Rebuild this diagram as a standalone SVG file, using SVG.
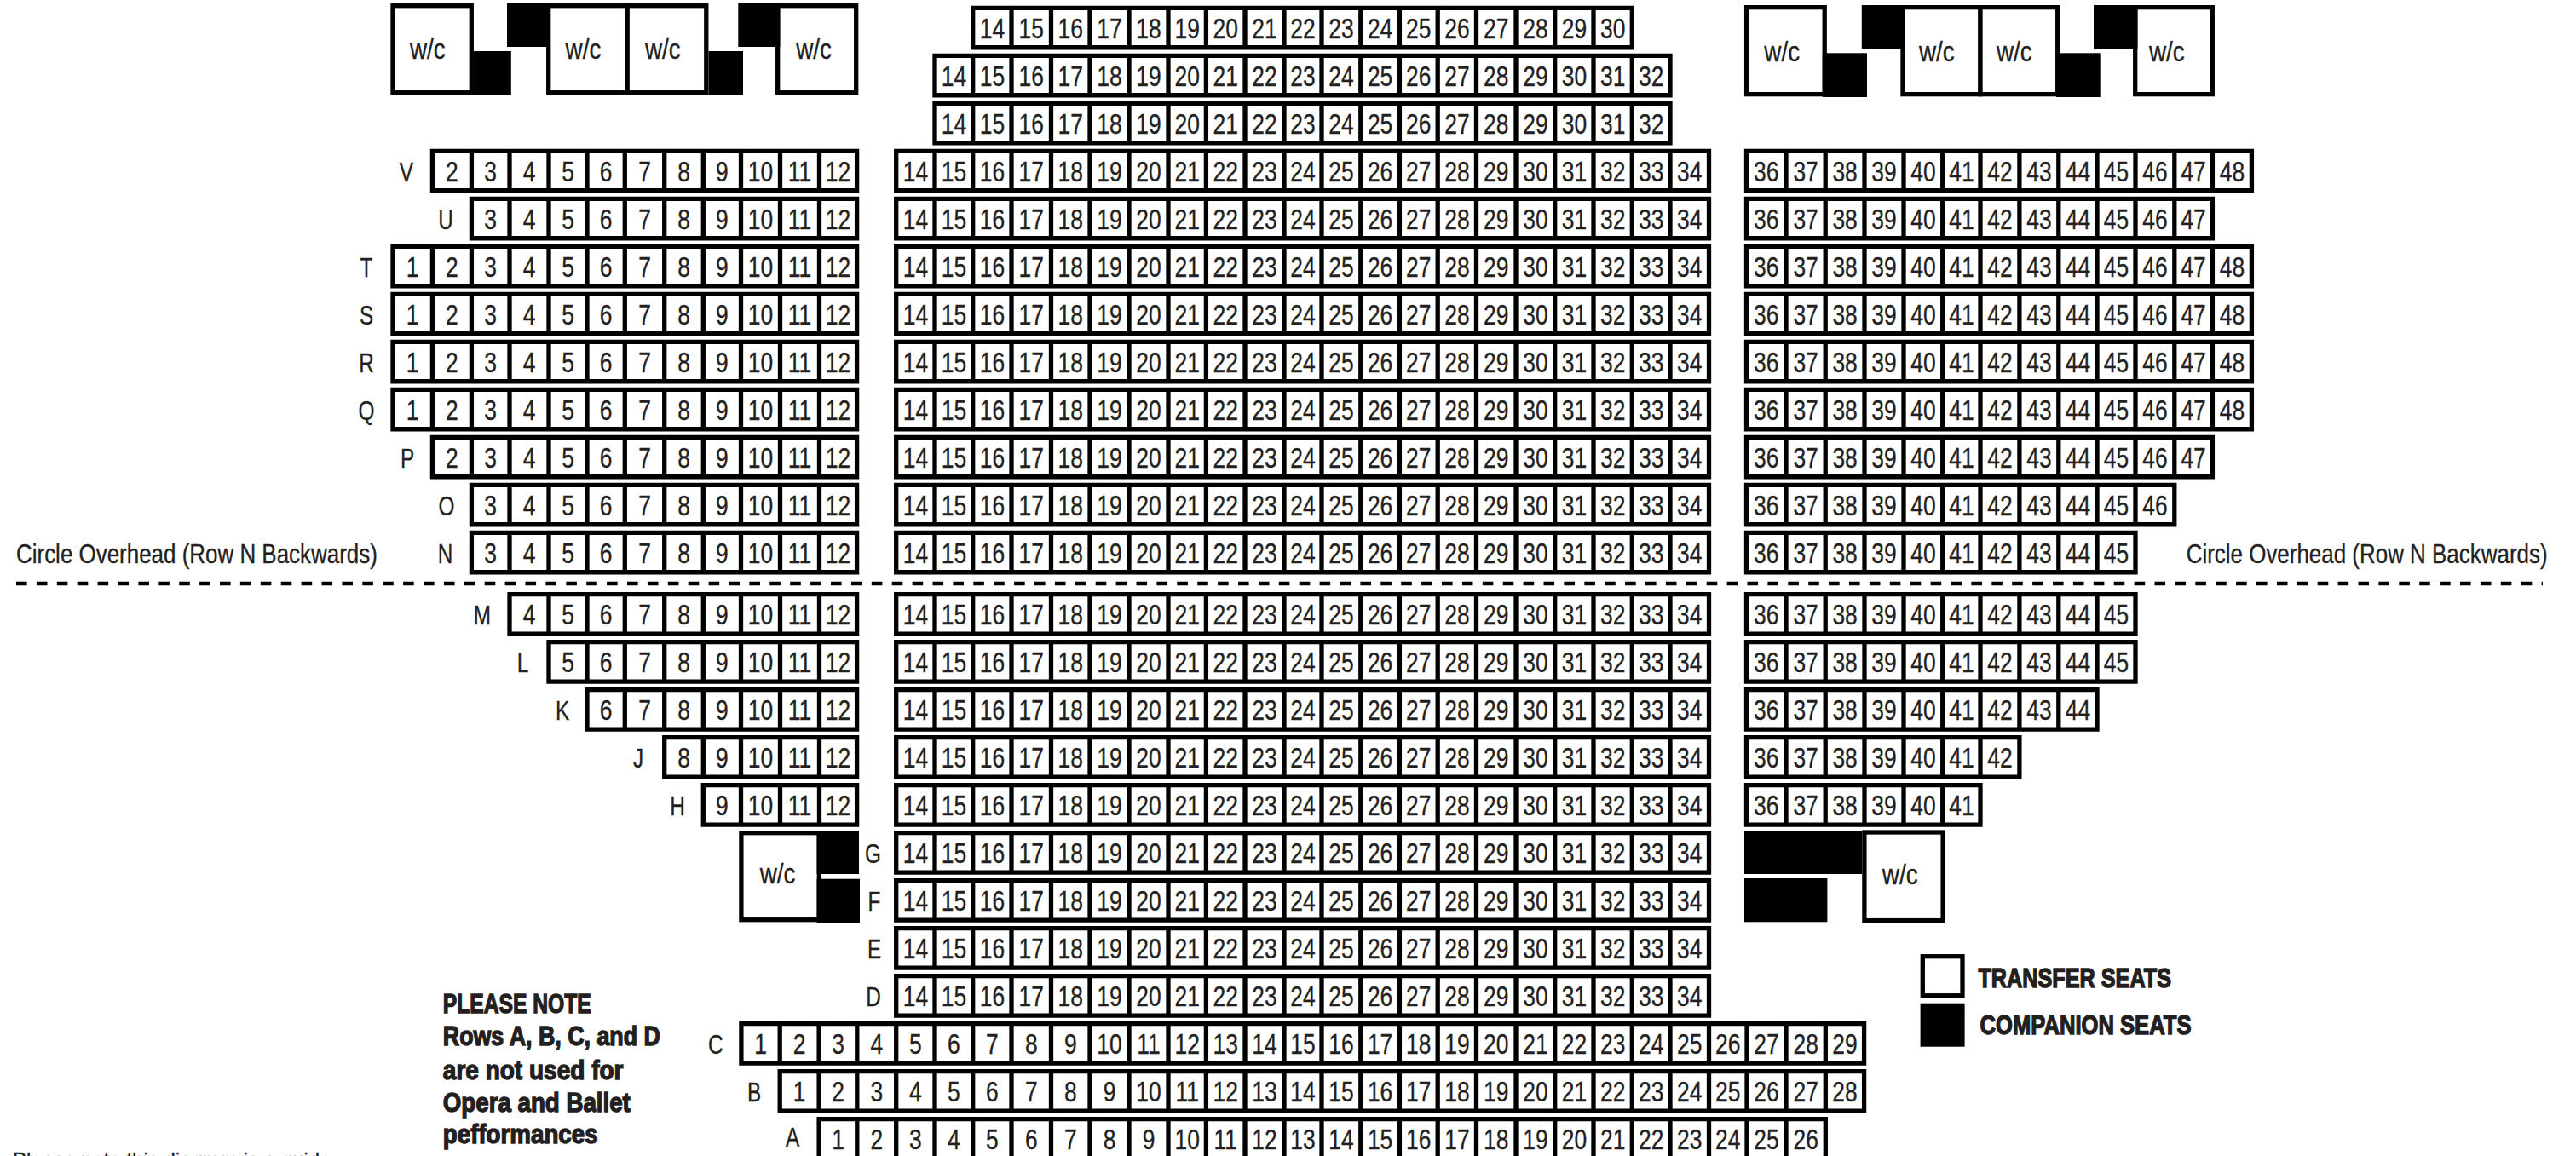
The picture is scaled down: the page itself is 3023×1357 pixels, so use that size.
<svg xmlns="http://www.w3.org/2000/svg" xmlns:xlink="http://www.w3.org/1999/xlink" width="3023" height="1357" viewBox="0 0 3023 1357">
<style>
text{font-family:"Liberation Sans",sans-serif;font-size:33px;fill:#231f20;stroke:#231f20;stroke-width:.35px;text-anchor:middle;transform-box:fill-box;transform-origin:50% 50%;transform:scaleX(.8)}
g>text:first-child{transform:scaleX(.76);font-size:32px}
.f{fill:#fff;stroke:#000;stroke-width:5.3}
.k{fill:#000}
.w{font-size:34px;transform:scaleX(.82)}
.s{text-anchor:start;transform-box:view-box;transform-origin:0 0}
#cl1{font-size:32px;transform:translate(19px,661px) scaleX(.811)}
#cl2{font-size:32px;transform:translate(2565.7px,661px) scaleX(.811)}
.b{text-anchor:start;font-size:32px;font-weight:bold;stroke-width:1.4px}
.t{text-anchor:start;font-size:24px}
#note text,#legend text,#footnote{transform:none}
</style>
<defs>
<path id="L1" class="f" d="M461-35.5H1005.6v46.4H461ZM507.4-35.5v46.4M553.4-35.5v46.4M598-35.5v46.4M644-35.5v46.4M689-35.5v46.4M733.3-35.5v46.4M779.7-35.5v46.4M825.3-35.5v46.4M869.5-35.5v46.4M915.5-35.5v46.4M961.5-35.5v46.4"/>
<path id="L2" class="f" d="M507.4-35.5H1005.6v46.4H507.4ZM553.4-35.5v46.4M598-35.5v46.4M644-35.5v46.4M689-35.5v46.4M733.3-35.5v46.4M779.7-35.5v46.4M825.3-35.5v46.4M869.5-35.5v46.4M915.5-35.5v46.4M961.5-35.5v46.4"/>
<path id="L3" class="f" d="M553.4-35.5H1005.6v46.4H553.4ZM598-35.5v46.4M644-35.5v46.4M689-35.5v46.4M733.3-35.5v46.4M779.7-35.5v46.4M825.3-35.5v46.4M869.5-35.5v46.4M915.5-35.5v46.4M961.5-35.5v46.4"/>
<path id="L4" class="f" d="M598-35.5H1005.6v46.4H598ZM644-35.5v46.4M689-35.5v46.4M733.3-35.5v46.4M779.7-35.5v46.4M825.3-35.5v46.4M869.5-35.5v46.4M915.5-35.5v46.4M961.5-35.5v46.4"/>
<path id="L5" class="f" d="M644-35.5H1005.6v46.4H644ZM689-35.5v46.4M733.3-35.5v46.4M779.7-35.5v46.4M825.3-35.5v46.4M869.5-35.5v46.4M915.5-35.5v46.4M961.5-35.5v46.4"/>
<path id="L6" class="f" d="M689-35.5H1005.6v46.4H689ZM733.3-35.5v46.4M779.7-35.5v46.4M825.3-35.5v46.4M869.5-35.5v46.4M915.5-35.5v46.4M961.5-35.5v46.4"/>
<path id="L8" class="f" d="M779.7-35.5H1005.6v46.4H779.7ZM825.3-35.5v46.4M869.5-35.5v46.4M915.5-35.5v46.4M961.5-35.5v46.4"/>
<path id="L9" class="f" d="M825.3-35.5H1005.6v46.4H825.3ZM869.5-35.5v46.4M915.5-35.5v46.4M961.5-35.5v46.4"/>
<path id="C" class="f" d="M1051.7-35.5H2005.5v46.4H1051.7ZM1097-35.5v46.4M1141.7-35.5v46.4M1187-35.5v46.4M1233.5-35.5v46.4M1279-35.5v46.4M1325-35.5v46.4M1371-35.5v46.4M1415.4-35.5v46.4M1461-35.5v46.4M1507-35.5v46.4M1551-35.5v46.4M1596.8-35.5v46.4M1642.4-35.5v46.4M1687.2-35.5v46.4M1732.5-35.5v46.4M1779-35.5v46.4M1824.7-35.5v46.4M1870-35.5v46.4M1915.3-35.5v46.4M1960-35.5v46.4"/>
<path id="T0" class="f" d="M1141.7-35.5H1915.3v46.4H1141.7ZM1187-35.5v46.4M1233.5-35.5v46.4M1279-35.5v46.4M1325-35.5v46.4M1371-35.5v46.4M1415.4-35.5v46.4M1461-35.5v46.4M1507-35.5v46.4M1551-35.5v46.4M1596.8-35.5v46.4M1642.4-35.5v46.4M1687.2-35.5v46.4M1732.5-35.5v46.4M1779-35.5v46.4M1824.7-35.5v46.4M1870-35.5v46.4"/>
<path id="T1" class="f" d="M1097-35.5H1960v46.4H1097ZM1141.7-35.5v46.4M1187-35.5v46.4M1233.5-35.5v46.4M1279-35.5v46.4M1325-35.5v46.4M1371-35.5v46.4M1415.4-35.5v46.4M1461-35.5v46.4M1507-35.5v46.4M1551-35.5v46.4M1596.8-35.5v46.4M1642.4-35.5v46.4M1687.2-35.5v46.4M1732.5-35.5v46.4M1779-35.5v46.4M1824.7-35.5v46.4M1870-35.5v46.4M1915.3-35.5v46.4"/>
<path id="R48" class="f" d="M2049.5-35.5H2642.4v46.4H2049.5ZM2096-35.5v46.4M2142.2-35.5v46.4M2188-35.5v46.4M2234-35.5v46.4M2279.7-35.5v46.4M2324-35.5v46.4M2369.9-35.5v46.4M2415.8-35.5v46.4M2461-35.5v46.4M2506-35.5v46.4M2551.8-35.5v46.4M2596.4-35.5v46.4"/>
<path id="R47" class="f" d="M2049.5-35.5H2596.4v46.4H2049.5ZM2096-35.5v46.4M2142.2-35.5v46.4M2188-35.5v46.4M2234-35.5v46.4M2279.7-35.5v46.4M2324-35.5v46.4M2369.9-35.5v46.4M2415.8-35.5v46.4M2461-35.5v46.4M2506-35.5v46.4M2551.8-35.5v46.4"/>
<path id="R46" class="f" d="M2049.5-35.5H2551.8v46.4H2049.5ZM2096-35.5v46.4M2142.2-35.5v46.4M2188-35.5v46.4M2234-35.5v46.4M2279.7-35.5v46.4M2324-35.5v46.4M2369.9-35.5v46.4M2415.8-35.5v46.4M2461-35.5v46.4M2506-35.5v46.4"/>
<path id="R45" class="f" d="M2049.5-35.5H2506v46.4H2049.5ZM2096-35.5v46.4M2142.2-35.5v46.4M2188-35.5v46.4M2234-35.5v46.4M2279.7-35.5v46.4M2324-35.5v46.4M2369.9-35.5v46.4M2415.8-35.5v46.4M2461-35.5v46.4"/>
<path id="R44" class="f" d="M2049.5-35.5H2461v46.4H2049.5ZM2096-35.5v46.4M2142.2-35.5v46.4M2188-35.5v46.4M2234-35.5v46.4M2279.7-35.5v46.4M2324-35.5v46.4M2369.9-35.5v46.4M2415.8-35.5v46.4"/>
<path id="R42" class="f" d="M2049.5-35.5H2369.9v46.4H2049.5ZM2096-35.5v46.4M2142.2-35.5v46.4M2188-35.5v46.4M2234-35.5v46.4M2279.7-35.5v46.4M2324-35.5v46.4"/>
<path id="R41" class="f" d="M2049.5-35.5H2324v46.4H2049.5ZM2096-35.5v46.4M2142.2-35.5v46.4M2188-35.5v46.4M2234-35.5v46.4M2279.7-35.5v46.4"/>
</defs>
<rect width="3023" height="1357" fill="#fff"/>

<g id="wheelchair-top-left">
<rect class="f" x="461" y="6.7" width="92.3" height="102"/>
<rect class="f" x="643.7" y="6.7" width="92.5" height="102"/>
<rect class="f" x="736.2" y="6.7" width="92.6" height="102"/>
<rect class="f" x="912.7" y="6.7" width="92" height="102"/>
<rect class="k" x="555.6" y="60" width="44.2" height="51.3"/>
<rect class="k" x="595" y="4" width="50.8" height="51"/>
<rect class="k" x="831.5" y="60" width="40.5" height="51.3"/>
<rect class="k" x="866.3" y="4" width="49.1" height="51"/>
<text class="w" x="502" y="69.3">w/c</text><text class="w" x="684.6" y="69.3">w/c</text><text class="w" x="778" y="69.3">w/c</text><text class="w" x="955.2" y="69.3">w/c</text>
</g>
<g id="wheelchair-top-right">
<rect class="f" x="2049.6" y="8.65" width="91.6" height="102"/>
<rect class="f" x="2233" y="8.65" width="91" height="102"/>
<rect class="f" x="2324" y="8.65" width="90.7" height="102"/>
<rect class="f" x="2505.7" y="8.65" width="90.6" height="102"/>
<rect class="k" x="2138.8" y="62.3" width="52.2" height="51.7"/>
<rect class="k" x="2184.8" y="6" width="50.9" height="52"/>
<rect class="k" x="2413" y="62.3" width="51.7" height="51.7"/>
<rect class="k" x="2457" y="6" width="51.5" height="52"/>
<text class="w" x="2091.3" y="72.3">w/c</text><text class="w" x="2273" y="72.3">w/c</text><text class="w" x="2364" y="72.3">w/c</text><text class="w" x="2543" y="72.3">w/c</text>
</g>

<g id="row-top-1" transform="translate(0,44.85)"><use href="#T0"/><text x="1164.4">14</text><text x="1210.3">15</text><text x="1256.3">16</text><text x="1302">17</text><text x="1348">18</text><text x="1393.2">19</text><text x="1438.2">20</text><text x="1484">21</text><text x="1529">22</text><text x="1573.9">23</text><text x="1619.6">24</text><text x="1664.8">25</text><text x="1709.9">26</text><text x="1755.8">27</text><text x="1801.9">28</text><text x="1847.4">29</text><text x="1892.7">30</text></g>
<g id="row-top-2" transform="translate(0,100.85)"><use href="#T1"/><text x="1119.4">14</text><text x="1164.4">15</text><text x="1210.3">16</text><text x="1256.3">17</text><text x="1302">18</text><text x="1348">19</text><text x="1393.2">20</text><text x="1438.2">21</text><text x="1484">22</text><text x="1529">23</text><text x="1573.9">24</text><text x="1619.6">25</text><text x="1664.8">26</text><text x="1709.9">27</text><text x="1755.8">28</text><text x="1801.9">29</text><text x="1847.4">30</text><text x="1892.7">31</text><text x="1937.7">32</text></g>
<g id="row-top-3" transform="translate(0,156.85)"><use href="#T1"/><text x="1119.4">14</text><text x="1164.4">15</text><text x="1210.3">16</text><text x="1256.3">17</text><text x="1302">18</text><text x="1348">19</text><text x="1393.2">20</text><text x="1438.2">21</text><text x="1484">22</text><text x="1529">23</text><text x="1573.9">24</text><text x="1619.6">25</text><text x="1664.8">26</text><text x="1709.9">27</text><text x="1755.8">28</text><text x="1801.9">29</text><text x="1847.4">30</text><text x="1892.7">31</text><text x="1937.7">32</text></g>

<g id="row-V" transform="translate(0,212.85)"><text x="476.8">V</text><use href="#L2"/><text x="530.4">2</text><text x="575.7">3</text><text x="621">4</text><text x="666.5">5</text><text x="711.2">6</text><text x="756.5">7</text><text x="802.5">8</text><text x="847.4">9</text><text x="892.5">10</text><text x="938.5">11</text><text x="983.5">12</text><use href="#C"/><text x="1074.4">14</text><text x="1119.4">15</text><text x="1164.4">16</text><text x="1210.3">17</text><text x="1256.3">18</text><text x="1302">19</text><text x="1348">20</text><text x="1393.2">21</text><text x="1438.2">22</text><text x="1484">23</text><text x="1529">24</text><text x="1573.9">25</text><text x="1619.6">26</text><text x="1664.8">27</text><text x="1709.9">28</text><text x="1755.8">29</text><text x="1801.9">30</text><text x="1847.4">31</text><text x="1892.7">32</text><text x="1937.7">33</text><text x="1982.7">34</text><use href="#R48"/><text x="2072.7">36</text><text x="2119.1">37</text><text x="2165.1">38</text><text x="2211">39</text><text x="2256.9">40</text><text x="2301.9">41</text><text x="2347">42</text><text x="2392.9">43</text><text x="2438.4">44</text><text x="2483.5">45</text><text x="2528.9">46</text><text x="2574.1">47</text><text x="2619.4">48</text></g>
<g id="row-U" transform="translate(0,268.85)"><text x="523">U</text><use href="#L3"/><text x="575.7">3</text><text x="621">4</text><text x="666.5">5</text><text x="711.2">6</text><text x="756.5">7</text><text x="802.5">8</text><text x="847.4">9</text><text x="892.5">10</text><text x="938.5">11</text><text x="983.5">12</text><use href="#C"/><text x="1074.4">14</text><text x="1119.4">15</text><text x="1164.4">16</text><text x="1210.3">17</text><text x="1256.3">18</text><text x="1302">19</text><text x="1348">20</text><text x="1393.2">21</text><text x="1438.2">22</text><text x="1484">23</text><text x="1529">24</text><text x="1573.9">25</text><text x="1619.6">26</text><text x="1664.8">27</text><text x="1709.9">28</text><text x="1755.8">29</text><text x="1801.9">30</text><text x="1847.4">31</text><text x="1892.7">32</text><text x="1937.7">33</text><text x="1982.7">34</text><use href="#R47"/><text x="2072.7">36</text><text x="2119.1">37</text><text x="2165.1">38</text><text x="2211">39</text><text x="2256.9">40</text><text x="2301.9">41</text><text x="2347">42</text><text x="2392.9">43</text><text x="2438.4">44</text><text x="2483.5">45</text><text x="2528.9">46</text><text x="2574.1">47</text></g>
<g id="row-T" transform="translate(0,324.85)"><text x="430">T</text><use href="#L1"/><text x="484.2">1</text><text x="530.4">2</text><text x="575.7">3</text><text x="621">4</text><text x="666.5">5</text><text x="711.2">6</text><text x="756.5">7</text><text x="802.5">8</text><text x="847.4">9</text><text x="892.5">10</text><text x="938.5">11</text><text x="983.5">12</text><use href="#C"/><text x="1074.4">14</text><text x="1119.4">15</text><text x="1164.4">16</text><text x="1210.3">17</text><text x="1256.3">18</text><text x="1302">19</text><text x="1348">20</text><text x="1393.2">21</text><text x="1438.2">22</text><text x="1484">23</text><text x="1529">24</text><text x="1573.9">25</text><text x="1619.6">26</text><text x="1664.8">27</text><text x="1709.9">28</text><text x="1755.8">29</text><text x="1801.9">30</text><text x="1847.4">31</text><text x="1892.7">32</text><text x="1937.7">33</text><text x="1982.7">34</text><use href="#R48"/><text x="2072.7">36</text><text x="2119.1">37</text><text x="2165.1">38</text><text x="2211">39</text><text x="2256.9">40</text><text x="2301.9">41</text><text x="2347">42</text><text x="2392.9">43</text><text x="2438.4">44</text><text x="2483.5">45</text><text x="2528.9">46</text><text x="2574.1">47</text><text x="2619.4">48</text></g>
<g id="row-S" transform="translate(0,380.85)"><text x="430">S</text><use href="#L1"/><text x="484.2">1</text><text x="530.4">2</text><text x="575.7">3</text><text x="621">4</text><text x="666.5">5</text><text x="711.2">6</text><text x="756.5">7</text><text x="802.5">8</text><text x="847.4">9</text><text x="892.5">10</text><text x="938.5">11</text><text x="983.5">12</text><use href="#C"/><text x="1074.4">14</text><text x="1119.4">15</text><text x="1164.4">16</text><text x="1210.3">17</text><text x="1256.3">18</text><text x="1302">19</text><text x="1348">20</text><text x="1393.2">21</text><text x="1438.2">22</text><text x="1484">23</text><text x="1529">24</text><text x="1573.9">25</text><text x="1619.6">26</text><text x="1664.8">27</text><text x="1709.9">28</text><text x="1755.8">29</text><text x="1801.9">30</text><text x="1847.4">31</text><text x="1892.7">32</text><text x="1937.7">33</text><text x="1982.7">34</text><use href="#R48"/><text x="2072.7">36</text><text x="2119.1">37</text><text x="2165.1">38</text><text x="2211">39</text><text x="2256.9">40</text><text x="2301.9">41</text><text x="2347">42</text><text x="2392.9">43</text><text x="2438.4">44</text><text x="2483.5">45</text><text x="2528.9">46</text><text x="2574.1">47</text><text x="2619.4">48</text></g>
<g id="row-R" transform="translate(0,436.85)"><text x="430">R</text><use href="#L1"/><text x="484.2">1</text><text x="530.4">2</text><text x="575.7">3</text><text x="621">4</text><text x="666.5">5</text><text x="711.2">6</text><text x="756.5">7</text><text x="802.5">8</text><text x="847.4">9</text><text x="892.5">10</text><text x="938.5">11</text><text x="983.5">12</text><use href="#C"/><text x="1074.4">14</text><text x="1119.4">15</text><text x="1164.4">16</text><text x="1210.3">17</text><text x="1256.3">18</text><text x="1302">19</text><text x="1348">20</text><text x="1393.2">21</text><text x="1438.2">22</text><text x="1484">23</text><text x="1529">24</text><text x="1573.9">25</text><text x="1619.6">26</text><text x="1664.8">27</text><text x="1709.9">28</text><text x="1755.8">29</text><text x="1801.9">30</text><text x="1847.4">31</text><text x="1892.7">32</text><text x="1937.7">33</text><text x="1982.7">34</text><use href="#R48"/><text x="2072.7">36</text><text x="2119.1">37</text><text x="2165.1">38</text><text x="2211">39</text><text x="2256.9">40</text><text x="2301.9">41</text><text x="2347">42</text><text x="2392.9">43</text><text x="2438.4">44</text><text x="2483.5">45</text><text x="2528.9">46</text><text x="2574.1">47</text><text x="2619.4">48</text></g>
<g id="row-Q" transform="translate(0,492.85)"><text x="430">Q</text><use href="#L1"/><text x="484.2">1</text><text x="530.4">2</text><text x="575.7">3</text><text x="621">4</text><text x="666.5">5</text><text x="711.2">6</text><text x="756.5">7</text><text x="802.5">8</text><text x="847.4">9</text><text x="892.5">10</text><text x="938.5">11</text><text x="983.5">12</text><use href="#C"/><text x="1074.4">14</text><text x="1119.4">15</text><text x="1164.4">16</text><text x="1210.3">17</text><text x="1256.3">18</text><text x="1302">19</text><text x="1348">20</text><text x="1393.2">21</text><text x="1438.2">22</text><text x="1484">23</text><text x="1529">24</text><text x="1573.9">25</text><text x="1619.6">26</text><text x="1664.8">27</text><text x="1709.9">28</text><text x="1755.8">29</text><text x="1801.9">30</text><text x="1847.4">31</text><text x="1892.7">32</text><text x="1937.7">33</text><text x="1982.7">34</text><use href="#R48"/><text x="2072.7">36</text><text x="2119.1">37</text><text x="2165.1">38</text><text x="2211">39</text><text x="2256.9">40</text><text x="2301.9">41</text><text x="2347">42</text><text x="2392.9">43</text><text x="2438.4">44</text><text x="2483.5">45</text><text x="2528.9">46</text><text x="2574.1">47</text><text x="2619.4">48</text></g>
<g id="row-P" transform="translate(0,548.85)"><text x="478">P</text><use href="#L2"/><text x="530.4">2</text><text x="575.7">3</text><text x="621">4</text><text x="666.5">5</text><text x="711.2">6</text><text x="756.5">7</text><text x="802.5">8</text><text x="847.4">9</text><text x="892.5">10</text><text x="938.5">11</text><text x="983.5">12</text><use href="#C"/><text x="1074.4">14</text><text x="1119.4">15</text><text x="1164.4">16</text><text x="1210.3">17</text><text x="1256.3">18</text><text x="1302">19</text><text x="1348">20</text><text x="1393.2">21</text><text x="1438.2">22</text><text x="1484">23</text><text x="1529">24</text><text x="1573.9">25</text><text x="1619.6">26</text><text x="1664.8">27</text><text x="1709.9">28</text><text x="1755.8">29</text><text x="1801.9">30</text><text x="1847.4">31</text><text x="1892.7">32</text><text x="1937.7">33</text><text x="1982.7">34</text><use href="#R47"/><text x="2072.7">36</text><text x="2119.1">37</text><text x="2165.1">38</text><text x="2211">39</text><text x="2256.9">40</text><text x="2301.9">41</text><text x="2347">42</text><text x="2392.9">43</text><text x="2438.4">44</text><text x="2483.5">45</text><text x="2528.9">46</text><text x="2574.1">47</text></g>
<g id="row-O" transform="translate(0,604.85)"><text x="524">O</text><use href="#L3"/><text x="575.7">3</text><text x="621">4</text><text x="666.5">5</text><text x="711.2">6</text><text x="756.5">7</text><text x="802.5">8</text><text x="847.4">9</text><text x="892.5">10</text><text x="938.5">11</text><text x="983.5">12</text><use href="#C"/><text x="1074.4">14</text><text x="1119.4">15</text><text x="1164.4">16</text><text x="1210.3">17</text><text x="1256.3">18</text><text x="1302">19</text><text x="1348">20</text><text x="1393.2">21</text><text x="1438.2">22</text><text x="1484">23</text><text x="1529">24</text><text x="1573.9">25</text><text x="1619.6">26</text><text x="1664.8">27</text><text x="1709.9">28</text><text x="1755.8">29</text><text x="1801.9">30</text><text x="1847.4">31</text><text x="1892.7">32</text><text x="1937.7">33</text><text x="1982.7">34</text><use href="#R46"/><text x="2072.7">36</text><text x="2119.1">37</text><text x="2165.1">38</text><text x="2211">39</text><text x="2256.9">40</text><text x="2301.9">41</text><text x="2347">42</text><text x="2392.9">43</text><text x="2438.4">44</text><text x="2483.5">45</text><text x="2528.9">46</text></g>
<g id="row-N" transform="translate(0,660.85)"><text x="522.6">N</text><use href="#L3"/><text x="575.7">3</text><text x="621">4</text><text x="666.5">5</text><text x="711.2">6</text><text x="756.5">7</text><text x="802.5">8</text><text x="847.4">9</text><text x="892.5">10</text><text x="938.5">11</text><text x="983.5">12</text><use href="#C"/><text x="1074.4">14</text><text x="1119.4">15</text><text x="1164.4">16</text><text x="1210.3">17</text><text x="1256.3">18</text><text x="1302">19</text><text x="1348">20</text><text x="1393.2">21</text><text x="1438.2">22</text><text x="1484">23</text><text x="1529">24</text><text x="1573.9">25</text><text x="1619.6">26</text><text x="1664.8">27</text><text x="1709.9">28</text><text x="1755.8">29</text><text x="1801.9">30</text><text x="1847.4">31</text><text x="1892.7">32</text><text x="1937.7">33</text><text x="1982.7">34</text><use href="#R45"/><text x="2072.7">36</text><text x="2119.1">37</text><text x="2165.1">38</text><text x="2211">39</text><text x="2256.9">40</text><text x="2301.9">41</text><text x="2347">42</text><text x="2392.9">43</text><text x="2438.4">44</text><text x="2483.5">45</text></g>

<g id="circle-labels">
<text id="cl1" class="s">Circle Overhead (Row N Backwards)</text>
<text id="cl2" class="s">Circle Overhead (Row N Backwards)</text>
</g>
<g id="divider"><line x1="19" y1="685" x2="2984" y2="685" stroke="#000" stroke-width="4.4" stroke-dasharray="12.6 11.3"/></g>

<g id="row-M" transform="translate(0,733.15)"><text x="566">M</text><use href="#L4"/><text x="621">4</text><text x="666.5">5</text><text x="711.2">6</text><text x="756.5">7</text><text x="802.5">8</text><text x="847.4">9</text><text x="892.5">10</text><text x="938.5">11</text><text x="983.5">12</text><use href="#C"/><text x="1074.4">14</text><text x="1119.4">15</text><text x="1164.4">16</text><text x="1210.3">17</text><text x="1256.3">18</text><text x="1302">19</text><text x="1348">20</text><text x="1393.2">21</text><text x="1438.2">22</text><text x="1484">23</text><text x="1529">24</text><text x="1573.9">25</text><text x="1619.6">26</text><text x="1664.8">27</text><text x="1709.9">28</text><text x="1755.8">29</text><text x="1801.9">30</text><text x="1847.4">31</text><text x="1892.7">32</text><text x="1937.7">33</text><text x="1982.7">34</text><use href="#R45"/><text x="2072.7">36</text><text x="2119.1">37</text><text x="2165.1">38</text><text x="2211">39</text><text x="2256.9">40</text><text x="2301.9">41</text><text x="2347">42</text><text x="2392.9">43</text><text x="2438.4">44</text><text x="2483.5">45</text></g>
<g id="row-L" transform="translate(0,789.15)"><text x="613.6">L</text><use href="#L5"/><text x="666.5">5</text><text x="711.2">6</text><text x="756.5">7</text><text x="802.5">8</text><text x="847.4">9</text><text x="892.5">10</text><text x="938.5">11</text><text x="983.5">12</text><use href="#C"/><text x="1074.4">14</text><text x="1119.4">15</text><text x="1164.4">16</text><text x="1210.3">17</text><text x="1256.3">18</text><text x="1302">19</text><text x="1348">20</text><text x="1393.2">21</text><text x="1438.2">22</text><text x="1484">23</text><text x="1529">24</text><text x="1573.9">25</text><text x="1619.6">26</text><text x="1664.8">27</text><text x="1709.9">28</text><text x="1755.8">29</text><text x="1801.9">30</text><text x="1847.4">31</text><text x="1892.7">32</text><text x="1937.7">33</text><text x="1982.7">34</text><use href="#R45"/><text x="2072.7">36</text><text x="2119.1">37</text><text x="2165.1">38</text><text x="2211">39</text><text x="2256.9">40</text><text x="2301.9">41</text><text x="2347">42</text><text x="2392.9">43</text><text x="2438.4">44</text><text x="2483.5">45</text></g>
<g id="row-K" transform="translate(0,845.15)"><text x="660">K</text><use href="#L6"/><text x="711.2">6</text><text x="756.5">7</text><text x="802.5">8</text><text x="847.4">9</text><text x="892.5">10</text><text x="938.5">11</text><text x="983.5">12</text><use href="#C"/><text x="1074.4">14</text><text x="1119.4">15</text><text x="1164.4">16</text><text x="1210.3">17</text><text x="1256.3">18</text><text x="1302">19</text><text x="1348">20</text><text x="1393.2">21</text><text x="1438.2">22</text><text x="1484">23</text><text x="1529">24</text><text x="1573.9">25</text><text x="1619.6">26</text><text x="1664.8">27</text><text x="1709.9">28</text><text x="1755.8">29</text><text x="1801.9">30</text><text x="1847.4">31</text><text x="1892.7">32</text><text x="1937.7">33</text><text x="1982.7">34</text><use href="#R44"/><text x="2072.7">36</text><text x="2119.1">37</text><text x="2165.1">38</text><text x="2211">39</text><text x="2256.9">40</text><text x="2301.9">41</text><text x="2347">42</text><text x="2392.9">43</text><text x="2438.4">44</text></g>
<g id="row-J" transform="translate(0,901.15)"><text x="749">J</text><use href="#L8"/><text x="802.5">8</text><text x="847.4">9</text><text x="892.5">10</text><text x="938.5">11</text><text x="983.5">12</text><use href="#C"/><text x="1074.4">14</text><text x="1119.4">15</text><text x="1164.4">16</text><text x="1210.3">17</text><text x="1256.3">18</text><text x="1302">19</text><text x="1348">20</text><text x="1393.2">21</text><text x="1438.2">22</text><text x="1484">23</text><text x="1529">24</text><text x="1573.9">25</text><text x="1619.6">26</text><text x="1664.8">27</text><text x="1709.9">28</text><text x="1755.8">29</text><text x="1801.9">30</text><text x="1847.4">31</text><text x="1892.7">32</text><text x="1937.7">33</text><text x="1982.7">34</text><use href="#R42"/><text x="2072.7">36</text><text x="2119.1">37</text><text x="2165.1">38</text><text x="2211">39</text><text x="2256.9">40</text><text x="2301.9">41</text><text x="2347">42</text></g>
<g id="row-H" transform="translate(0,957.15)"><text x="795">H</text><use href="#L9"/><text x="847.4">9</text><text x="892.5">10</text><text x="938.5">11</text><text x="983.5">12</text><use href="#C"/><text x="1074.4">14</text><text x="1119.4">15</text><text x="1164.4">16</text><text x="1210.3">17</text><text x="1256.3">18</text><text x="1302">19</text><text x="1348">20</text><text x="1393.2">21</text><text x="1438.2">22</text><text x="1484">23</text><text x="1529">24</text><text x="1573.9">25</text><text x="1619.6">26</text><text x="1664.8">27</text><text x="1709.9">28</text><text x="1755.8">29</text><text x="1801.9">30</text><text x="1847.4">31</text><text x="1892.7">32</text><text x="1937.7">33</text><text x="1982.7">34</text><use href="#R41"/><text x="2072.7">36</text><text x="2119.1">37</text><text x="2165.1">38</text><text x="2211">39</text><text x="2256.9">40</text><text x="2301.9">41</text></g>
<g id="row-G" transform="translate(0,1013.15)"><text x="1024.4">G</text><use href="#C"/><text x="1074.4">14</text><text x="1119.4">15</text><text x="1164.4">16</text><text x="1210.3">17</text><text x="1256.3">18</text><text x="1302">19</text><text x="1348">20</text><text x="1393.2">21</text><text x="1438.2">22</text><text x="1484">23</text><text x="1529">24</text><text x="1573.9">25</text><text x="1619.6">26</text><text x="1664.8">27</text><text x="1709.9">28</text><text x="1755.8">29</text><text x="1801.9">30</text><text x="1847.4">31</text><text x="1892.7">32</text><text x="1937.7">33</text><text x="1982.7">34</text></g>
<g id="row-F" transform="translate(0,1069.15)"><text x="1026">F</text><use href="#C"/><text x="1074.4">14</text><text x="1119.4">15</text><text x="1164.4">16</text><text x="1210.3">17</text><text x="1256.3">18</text><text x="1302">19</text><text x="1348">20</text><text x="1393.2">21</text><text x="1438.2">22</text><text x="1484">23</text><text x="1529">24</text><text x="1573.9">25</text><text x="1619.6">26</text><text x="1664.8">27</text><text x="1709.9">28</text><text x="1755.8">29</text><text x="1801.9">30</text><text x="1847.4">31</text><text x="1892.7">32</text><text x="1937.7">33</text><text x="1982.7">34</text></g>
<g id="row-E" transform="translate(0,1125.15)"><text x="1026">E</text><use href="#C"/><text x="1074.4">14</text><text x="1119.4">15</text><text x="1164.4">16</text><text x="1210.3">17</text><text x="1256.3">18</text><text x="1302">19</text><text x="1348">20</text><text x="1393.2">21</text><text x="1438.2">22</text><text x="1484">23</text><text x="1529">24</text><text x="1573.9">25</text><text x="1619.6">26</text><text x="1664.8">27</text><text x="1709.9">28</text><text x="1755.8">29</text><text x="1801.9">30</text><text x="1847.4">31</text><text x="1892.7">32</text><text x="1937.7">33</text><text x="1982.7">34</text></g>
<g id="row-D" transform="translate(0,1181.15)"><text x="1025">D</text><use href="#C"/><text x="1074.4">14</text><text x="1119.4">15</text><text x="1164.4">16</text><text x="1210.3">17</text><text x="1256.3">18</text><text x="1302">19</text><text x="1348">20</text><text x="1393.2">21</text><text x="1438.2">22</text><text x="1484">23</text><text x="1529">24</text><text x="1573.9">25</text><text x="1619.6">26</text><text x="1664.8">27</text><text x="1709.9">28</text><text x="1755.8">29</text><text x="1801.9">30</text><text x="1847.4">31</text><text x="1892.7">32</text><text x="1937.7">33</text><text x="1982.7">34</text></g>

<g id="row-C" transform="translate(0,1237.15)"><text x="839.7">C</text><path class="f" d="M869.9-35.5H2187.6v46.4H869.9ZM915.2-35.5v46.4M961.1-35.5v46.4M1005.8-35.5v46.4M1051.7-35.5v46.4M1097-35.5v46.4M1141.7-35.5v46.4M1187-35.5v46.4M1233.5-35.5v46.4M1279-35.5v46.4M1325-35.5v46.4M1371-35.5v46.4M1415.4-35.5v46.4M1461-35.5v46.4M1507-35.5v46.4M1551-35.5v46.4M1596.8-35.5v46.4M1642.4-35.5v46.4M1687.2-35.5v46.4M1732.5-35.5v46.4M1779-35.5v46.4M1824.7-35.5v46.4M1870-35.5v46.4M1915.3-35.5v46.4M1960-35.5v46.4M2005.5-35.5v46.4M2050-35.5v46.4M2096-35.5v46.4M2142.3-35.5v46.4"/><text x="892.6">1</text><text x="938.2">2</text><text x="983.5">3</text><text x="1028.8">4</text><text x="1074.4">5</text><text x="1119.4">6</text><text x="1164.4">7</text><text x="1210.3">8</text><text x="1256.3">9</text><text x="1302">10</text><text x="1348">11</text><text x="1393.2">12</text><text x="1438.2">13</text><text x="1484">14</text><text x="1529">15</text><text x="1573.9">16</text><text x="1619.6">17</text><text x="1664.8">18</text><text x="1709.9">19</text><text x="1755.8">20</text><text x="1801.9">21</text><text x="1847.4">22</text><text x="1892.7">23</text><text x="1937.7">24</text><text x="1982.7">25</text><text x="2027.8">26</text><text x="2073">27</text><text x="2119.2">28</text><text x="2165">29</text></g>
<g id="row-B" transform="translate(0,1293.15)"><text x="885">B</text><path class="f" d="M915.2-35.5H2187.6v46.4H915.2ZM961.1-35.5v46.4M1005.8-35.5v46.4M1051.7-35.5v46.4M1097-35.5v46.4M1141.7-35.5v46.4M1187-35.5v46.4M1233.5-35.5v46.4M1279-35.5v46.4M1325-35.5v46.4M1371-35.5v46.4M1415.4-35.5v46.4M1461-35.5v46.4M1507-35.5v46.4M1551-35.5v46.4M1596.8-35.5v46.4M1642.4-35.5v46.4M1687.2-35.5v46.4M1732.5-35.5v46.4M1779-35.5v46.4M1824.7-35.5v46.4M1870-35.5v46.4M1915.3-35.5v46.4M1960-35.5v46.4M2005.5-35.5v46.4M2050-35.5v46.4M2096-35.5v46.4M2142.3-35.5v46.4"/><text x="938.2">1</text><text x="983.5">2</text><text x="1028.8">3</text><text x="1074.4">4</text><text x="1119.4">5</text><text x="1164.4">6</text><text x="1210.3">7</text><text x="1256.3">8</text><text x="1302">9</text><text x="1348">10</text><text x="1393.2">11</text><text x="1438.2">12</text><text x="1484">13</text><text x="1529">14</text><text x="1573.9">15</text><text x="1619.6">16</text><text x="1664.8">17</text><text x="1709.9">18</text><text x="1755.8">19</text><text x="1801.9">20</text><text x="1847.4">21</text><text x="1892.7">22</text><text x="1937.7">23</text><text x="1982.7">24</text><text x="2027.8">25</text><text x="2073">26</text><text x="2119.2">27</text><text x="2165">28</text></g>
<g id="row-A" transform="translate(0,1349.15)"><text x="930" y="-3">A</text><path class="f" d="M961.1-35.5H2142.3v46.4H961.1ZM1005.8-35.5v46.4M1051.7-35.5v46.4M1097-35.5v46.4M1141.7-35.5v46.4M1187-35.5v46.4M1233.5-35.5v46.4M1279-35.5v46.4M1325-35.5v46.4M1371-35.5v46.4M1415.4-35.5v46.4M1461-35.5v46.4M1507-35.5v46.4M1551-35.5v46.4M1596.8-35.5v46.4M1642.4-35.5v46.4M1687.2-35.5v46.4M1732.5-35.5v46.4M1779-35.5v46.4M1824.7-35.5v46.4M1870-35.5v46.4M1915.3-35.5v46.4M1960-35.5v46.4M2005.5-35.5v46.4M2050-35.5v46.4M2096-35.5v46.4"/><text x="983.5">1</text><text x="1028.8">2</text><text x="1074.4">3</text><text x="1119.4">4</text><text x="1164.4">5</text><text x="1210.3">6</text><text x="1256.3">7</text><text x="1302">8</text><text x="1348">9</text><text x="1393.2">10</text><text x="1438.2">11</text><text x="1484">12</text><text x="1529">13</text><text x="1573.9">14</text><text x="1619.6">15</text><text x="1664.8">16</text><text x="1709.9">17</text><text x="1755.8">18</text><text x="1801.9">19</text><text x="1847.4">20</text><text x="1892.7">21</text><text x="1937.7">22</text><text x="1982.7">23</text><text x="2027.8">24</text><text x="2073">25</text><text x="2119.2">26</text></g>

<g id="wheelchair-left">
<rect class="f" x="869.9" y="977.7" width="91.4" height="102"/>
<rect class="k" x="958.6" y="975" width="49.4" height="51"/>
<rect class="k" x="958.6" y="1031.7" width="50.4" height="51.6"/>
<text class="w" x="912.7" y="1037.3">w/c</text>
</g>
<g id="wheelchair-right">
<rect class="f" x="2187.9" y="977" width="92.2" height="103.6"/>
<rect class="k" x="2047" y="975" width="138.2" height="51"/>
<rect class="k" x="2047" y="1031" width="97.4" height="51.3"/>
<text class="w" x="2229.8" y="1037.7">w/c</text>
</g>

<g id="legend">
<rect class="f" x="2256.3" y="1122.7" width="46.7" height="46"/>
<rect class="k" x="2253.6" y="1177.7" width="52" height="51"/>
<text class="b" x="2321.4" y="1159.3" textLength="226.6" lengthAdjust="spacingAndGlyphs">TRANSFER SEATS</text>
<text class="b" x="2323.5" y="1214" textLength="248" lengthAdjust="spacingAndGlyphs">COMPANION SEATS</text>
</g>
<g id="note">
<text class="b" x="519.8" y="1189" textLength="174" lengthAdjust="spacingAndGlyphs">PLEASE NOTE</text>
<text class="b" x="519.8" y="1227.3" textLength="255" lengthAdjust="spacingAndGlyphs">Rows A, B, C, and D</text>
<text class="b" x="519.8" y="1266.7" textLength="211.7" lengthAdjust="spacingAndGlyphs">are not used for</text>
<text class="b" x="519.8" y="1305" textLength="220" lengthAdjust="spacingAndGlyphs">Opera and Ballet</text>
<text class="b" x="519.8" y="1341.7" textLength="181.8" lengthAdjust="spacingAndGlyphs">pefformances</text>
</g>
<text id="footnote" class="t" x="15" y="1370">Please note this diagram is a guide</text>
</svg>
